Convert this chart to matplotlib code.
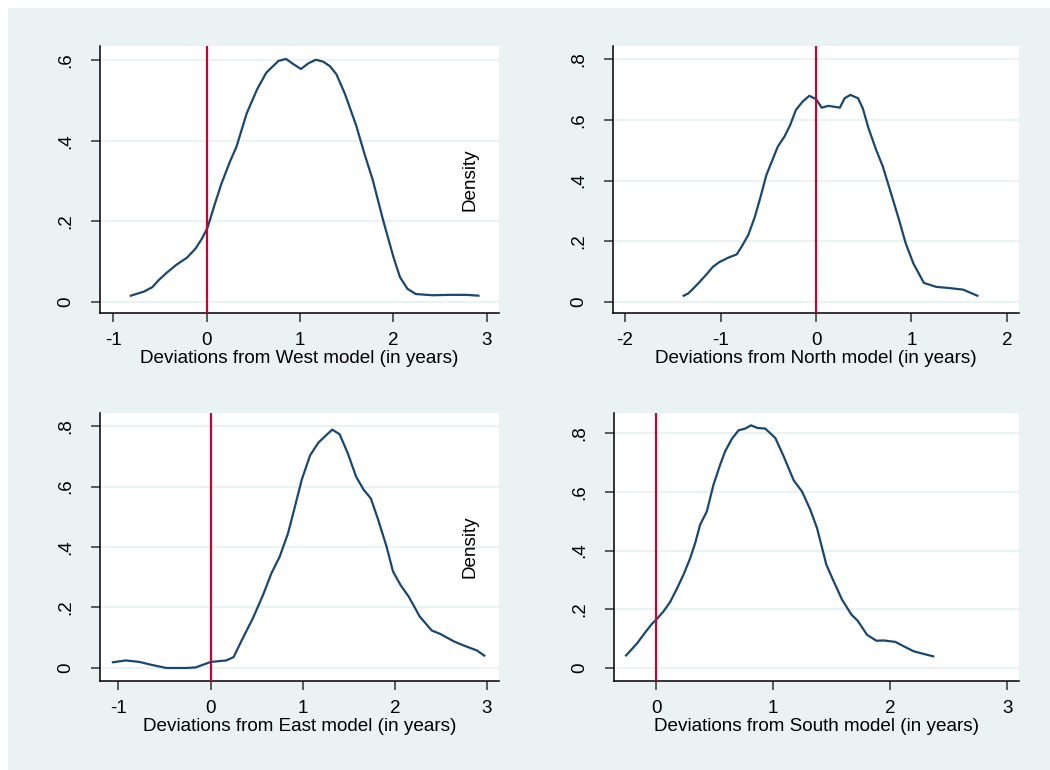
import matplotlib
matplotlib.use("Agg")
import matplotlib.pyplot as plt
from matplotlib.patches import Rectangle

plt.rcParams["font.family"] = ["Liberation Sans", "DejaVu Sans"]

BG = "#eaf2f3"
LINE = "#1a476f"
REF = "#c10534"

# West model deviations (kernel density)
west_x = [-0.81, -0.67, -0.58, -0.51, -0.42, -0.32, -0.21, -0.12, -0.05, 0.01,
          0.09, 0.16, 0.25, 0.32, 0.43, 0.54, 0.64, 0.77, 0.85, 0.93,
          1.01, 1.09, 1.17, 1.25, 1.32, 1.39, 1.48, 1.60, 1.69, 1.78,
          1.89, 2.00, 2.07, 2.15, 2.24, 2.42, 2.60, 2.78, 2.91]
west_y = [0.016, 0.026, 0.037, 0.055, 0.074, 0.093, 0.110, 0.132, 0.157, 0.184,
          0.244, 0.294, 0.348, 0.385, 0.468, 0.527, 0.569, 0.598, 0.603, 0.590,
          0.578, 0.592, 0.601, 0.596, 0.585, 0.565, 0.517, 0.439, 0.368, 0.302,
          0.203, 0.112, 0.062, 0.033, 0.020, 0.017, 0.018, 0.018, 0.016]

# North model
north_x = [-1.386, -1.34, -1.29, -1.22, -1.15, -1.08, -1.01, -0.92, -0.83, -0.78,
           -0.71, -0.64, -0.58, -0.52, -0.47, -0.40, -0.33, -0.27, -0.21, -0.14,
           -0.07, 0.00, 0.06, 0.13, 0.25, 0.30, 0.36, 0.44, 0.49, 0.55,
           0.63, 0.70, 0.77, 0.86, 0.94, 1.02, 1.13, 1.26, 1.40, 1.54, 1.69]
north_y = [0.021, 0.028, 0.043, 0.066, 0.090, 0.116, 0.132, 0.146, 0.157, 0.182,
           0.220, 0.281, 0.347, 0.418, 0.457, 0.512, 0.545, 0.583, 0.633, 0.660,
           0.679, 0.668, 0.640, 0.646, 0.640, 0.671, 0.682, 0.671, 0.638, 0.572,
           0.501, 0.446, 0.374, 0.281, 0.193, 0.127, 0.063, 0.050, 0.046, 0.041, 0.021]

# East model
east_x = [-1.06, -0.92, -0.77, -0.65, -0.48, -0.26, -0.16, 0.00, 0.17, 0.25,
          0.35, 0.46, 0.57, 0.66, 0.75, 0.84, 0.91, 0.99, 1.08, 1.17,
          1.26, 1.32, 1.40, 1.49, 1.58, 1.66, 1.74, 1.82, 1.91, 1.98,
          2.06, 2.15, 2.27, 2.40, 2.49, 2.64, 2.75, 2.89, 2.97]
east_y = [0.019, 0.025, 0.020, 0.011, 0.000, 0.000, 0.002, 0.020, 0.025, 0.036,
          0.099, 0.165, 0.242, 0.313, 0.368, 0.445, 0.527, 0.623, 0.703, 0.745,
          0.771, 0.788, 0.773, 0.709, 0.632, 0.590, 0.560, 0.489, 0.401, 0.319,
          0.275, 0.236, 0.170, 0.124, 0.113, 0.088, 0.074, 0.058, 0.041]

# South model
south_x = [-0.257, -0.165, -0.094, -0.037, 0.006, 0.063, 0.12, 0.177, 0.234, 0.291,
           0.334, 0.376, 0.433, 0.49, 0.547, 0.59, 0.647, 0.704, 0.761, 0.81,
           0.867, 0.932, 1.018, 1.089, 1.175, 1.246, 1.317, 1.374, 1.454, 1.517,
           1.588, 1.668, 1.722, 1.802, 1.882, 1.945, 2.044, 2.116, 2.201, 2.287, 2.367]
south_y = [0.043, 0.083, 0.121, 0.150, 0.167, 0.193, 0.225, 0.270, 0.318, 0.374,
           0.426, 0.488, 0.533, 0.624, 0.692, 0.738, 0.780, 0.809, 0.815, 0.826,
           0.817, 0.815, 0.783, 0.721, 0.639, 0.601, 0.539, 0.477, 0.352, 0.295,
           0.233, 0.182, 0.161, 0.113, 0.093, 0.094, 0.089, 0.074, 0.057, 0.048, 0.040]

panels = [
    # (x, y, xlabel, xticks, xlim, yticks, ylim, density label, pixel box)
    (west_x, west_y, "Deviations from West model (in years)", [-1, 0, 1, 2, 3],
     (-1.14, 3.13), [0, 0.2, 0.4, 0.6], (-0.027, 0.635), True, (100, 46, 499, 313)),
    (north_x, north_y, "Deviations from North model (in years)", [-2, -1, 0, 1, 2],
     (-2.126, 2.126), [0, 0.2, 0.4, 0.6, 0.8], (-0.036, 0.843), False, (613, 46, 1019, 313)),
    (east_x, east_y, "Deviations from East model (in years)", [-1, 0, 1, 2, 3],
     (-1.2, 3.13), [0, 0.2, 0.4, 0.6, 0.8], (-0.043, 0.843), True, (100, 413, 499, 681)),
    (south_x, south_y, "Deviations from South model (in years)", [0, 1, 2, 3],
     (-0.36, 3.10), [0, 0.2, 0.4, 0.6, 0.8], (-0.044, 0.868), False, (614, 413, 1019, 681)),
]

W, H = 1050, 770
fig = plt.figure(figsize=(W / 100, H / 100), dpi=100)
fig.patch.set_facecolor("white")
fig.patches.append(Rectangle((8 / W, 0), 1 - 8 / W, 1 - 8 / H, transform=fig.transFigure,
                             facecolor=BG, edgecolor="none", zorder=-10))


def ylab(v):
    s = f"{v:g}"
    return s.replace("0.", ".") if v != 0 else "0"


for x, y, xlabel, xt, xl, yt, yl, dens, (l, t, r, b) in panels:
    ax = fig.add_axes([l / W, 1 - b / H, (r - l) / W, (b - t) / H])
    ax.set_facecolor("white")
    for yv in yt:
        ax.axhline(yv, color=BG, lw=1.6, zorder=1)
    ax.plot(x, y, color=LINE, lw=1.6, zorder=3)
    ax.axvline(0, color=REF, lw=1.6, zorder=4)
    ax.set_xlim(*xl)
    ax.set_ylim(*yl)
    ax.set_xticks(xt)
    ax.set_xticklabels([f"{v:g}" for v in xt])
    ax.set_yticks(yt)
    ax.set_yticklabels([ylab(v) for v in yt], rotation=90, va="center")
    ax.tick_params(axis="both", direction="out", length=6.5, width=1.1,
                   color="#333333", labelsize=13.5)
    ax.tick_params(axis="x", pad=7)
    ax.tick_params(axis="y", pad=12)
    ax.set_xlabel(xlabel, fontsize=13.6, labelpad=1)
    for side in ("top", "right"):
        ax.spines[side].set_visible(False)
    for side in ("left", "bottom"):
        ax.spines[side].set_linewidth(1.1)
    if dens:
        ax.text(0.927, 0.5, "Density", transform=ax.transAxes, rotation=90,
                ha="center", va="center", fontsize=13.6)

fig.savefig("out.png", dpi=100, facecolor=fig.get_facecolor())
